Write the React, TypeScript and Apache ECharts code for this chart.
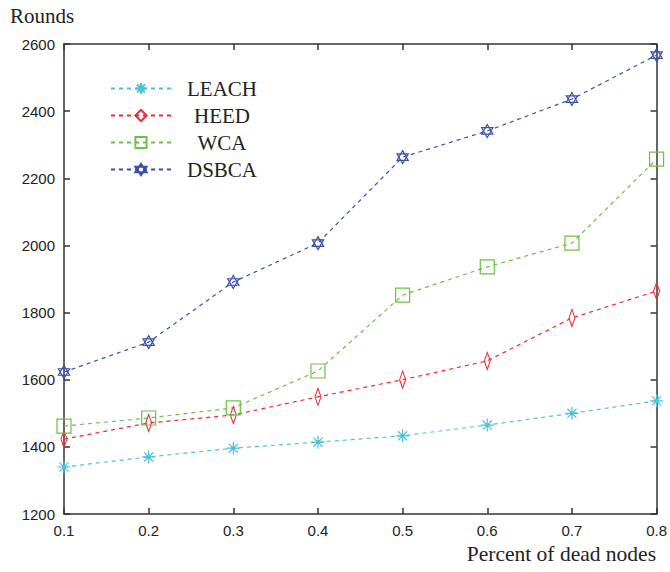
import React, { useEffect, useRef } from "react";
import * as echarts from "echarts";

const xLabels = ["0.1", "0.2", "0.3", "0.4", "0.5", "0.6", "0.7", "0.8"];
const leach = [1340, 1370, 1396, 1414, 1433, 1465, 1500, 1537];
const heed = [1423, 1471, 1495, 1549, 1600, 1656, 1784, 1864];
const wca = [1462, 1486, 1516, 1626, 1852, 1936, 2007, 2257];
const dsbca = [1623, 1712, 1891, 2007, 2263, 2341, 2436, 2567];
const seriesNames = ["LEACH", "HEED", "WCA", "DSBCA"];
const colors = ["#48c3dd", "#ec2b35", "#6cc048", "#3a4fa8"];

const asterisk = "path://M0,-10L0,10M-10,0L10,0M-7,-7L7,7M-7,7L7,-7M-2,-2L2,-2L2,2L-2,2Z";
const diamond = "path://M0,-10L6,0L0,10L-6,0Z";
const square = "path://M-10,-10L10,-10L10,10L-10,10Z";
const hexagram = "path://M0,-10L8.66,5L-8.66,5Z M0,10L8.66,-5L-8.66,-5Z";

export default function App() {
  const ref = useRef<HTMLDivElement>(null);
  useEffect(() => {
    const chart = echarts.init(ref.current!, null, { renderer: "svg" });
    const symbols = [asterisk, diamond, square, hexagram];
    const sizes: any[] = [[13, 13], [10, 17], [14, 14], [13, 13]];
    const data = [leach, heed, wca, dsbca];
    const axisColor = "#333";
    const serif = "Liberation Serif, Times New Roman";
    const labelFont = { fontFamily: "Liberation Sans, Arial", fontSize: 15, color: "#222" };
    chart.setOption({
      animation: false,
      grid: { left: 64, right: 7, top: 44, bottom: 58 },
      legend: {
        orient: "vertical",
        left: 105,
        top: 73,
        itemWidth: 60,
        itemHeight: 14,
        itemGap: 6,
        data: seriesNames,
        formatter: (n: string) => `{s|}{c|${n}}`,
        textStyle: {
          rich: {
            s: { width: 8 },
            c: { width: 76, align: "center", fontFamily: serif, fontSize: 21, lineHeight: 23, color: "#222" },
          },
        },
      },
      xAxis: [
        {
          type: "value",
          min: 0.1,
          max: 0.8,
          interval: 0.1,
          axisLine: { onZero: false, lineStyle: { color: axisColor, width: 1.5 } },
          axisTick: { inside: true, length: 6, lineStyle: { color: axisColor, width: 1.5 } },
          axisLabel: { ...labelFont, margin: 9, formatter: (v: number) => xLabels[Math.round(v * 10) - 1] ?? "" },
          splitLine: { show: false },
        },
        {
          type: "value",
          position: "top",
          min: 0.1,
          max: 0.8,
          interval: 0.1,
          axisLine: { onZero: false, lineStyle: { color: axisColor, width: 1.5 } },
          axisTick: { inside: true, length: 6, lineStyle: { color: axisColor, width: 1.5 } },
          axisLabel: { show: false },
          splitLine: { show: false },
        },
      ],
      yAxis: [
        {
          type: "value",
          min: 1200,
          max: 2600,
          interval: 200,
          axisLine: { show: true, onZero: false, lineStyle: { color: axisColor, width: 1.5 } },
          axisTick: { show: true, inside: true, length: 6, lineStyle: { color: axisColor, width: 1.5 } },
          axisLabel: { ...labelFont, margin: 9, formatter: (v: number) => String(v) },
          splitLine: { show: false },
        },
        {
          type: "value",
          position: "right",
          min: 1200,
          max: 2600,
          interval: 200,
          axisLine: { show: true, onZero: false, lineStyle: { color: axisColor, width: 1.5 } },
          axisTick: { show: true, inside: true, length: 6, lineStyle: { color: axisColor, width: 1.5 } },
          axisLabel: { show: false },
          splitLine: { show: false },
        },
      ],
      graphic: [
        {
          type: "text",
          left: 10,
          top: 5,
          style: { text: "Rounds", fontFamily: serif, fontSize: 21, fill: "#222" },
        },
        {
          type: "text",
          right: 14,
          top: 543,
          style: { text: "Percent of dead nodes", fontFamily: serif, fontSize: 21.5, fill: "#222" },
        },
      ],
      series: seriesNames.map((name, i) => ({
        name,
        type: "line",
        data: data[i].map((v, j) => [Number(xLabels[j]), v]),
        symbol: symbols[i],
        symbolSize: sizes[i],
        symbolKeepAspect: true,
        lineStyle: { color: colors[i], width: 1.2, type: [4, 4] },
        itemStyle: { color: i === 0 ? colors[i] : "rgba(255,255,255,0)", borderColor: colors[i], borderWidth: 1.2 },
        emphasis: { disabled: true },
      })),
    });
    return () => chart.dispose();
  }, []);
  return <div ref={ref} style={{ width: 670, height: 572, position: "absolute", left: 0, top: 0 }} />;
}
